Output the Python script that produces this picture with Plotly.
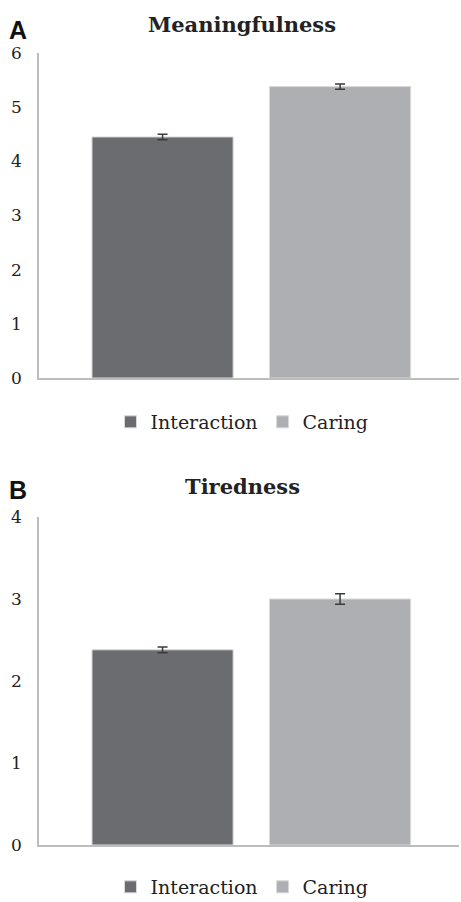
import plotly.graph_objects as go

categories = ["Interaction", "Caring"]
meaning_vals = [4.45, 5.38]
meaning_err = [0.05, 0.05]
tired_vals = [2.38, 3.0]
tired_err = [0.035, 0.065]
colors = ["#6b6c70", "#aeafb2"]

W, H = 461, 902
def py(p):
    return 1 - p / H

fig = go.Figure()
for i, c in enumerate(categories):
    fig.add_trace(go.Bar(x=[i], y=[meaning_vals[i]], name=c, marker=dict(color=colors[i], line=dict(color="#d8d8d8", width=1)),
                         width=0.795, error_y=dict(type="data", array=[meaning_err[i]], color="#3a3a3a", thickness=1.5, width=5),
                         xaxis="x", yaxis="y", legend="legend"))
for i, c in enumerate(categories):
    fig.add_trace(go.Bar(x=[i], y=[tired_vals[i]], name=c, marker=dict(color=colors[i], line=dict(color="#d8d8d8", width=1)),
                         width=0.795, error_y=dict(type="data", array=[tired_err[i]], color="#3a3a3a", thickness=1.5, width=5),
                         xaxis="x2", yaxis="y2", legend="legend2"))

xr = [-0.696, 1.670]
tickfont = dict(family="DejaVu Serif", size=17, color="#222")
axcommon_x = dict(range=xr, showticklabels=False, showgrid=False, zeroline=False, showline=True,
                  linecolor="#bdbdbd", linewidth=1.5, ticks="", fixedrange=True)
axcommon_y = dict(showgrid=False, zeroline=False, showline=True, linecolor="#bdbdbd", linewidth=1.5,
                  ticks="", tickfont=tickfont, ticklabelstandoff=12)

legfont = dict(family="DejaVu Serif", size=19, color="#222")
fig.update_layout(
    width=W, height=H,
    margin=dict(l=0, r=0, t=0, b=0, autoexpand=False),
    paper_bgcolor="white", plot_bgcolor="white",
    barmode="overlay",
    xaxis=dict(domain=[39 / W, 459 / W], anchor="y", **axcommon_x),
    yaxis=dict(domain=[py(378), py(53)], anchor="x", range=[0, 6], dtick=1, **axcommon_y),
    xaxis2=dict(domain=[39 / W, 459 / W], anchor="y2", **axcommon_x),
    yaxis2=dict(domain=[py(845), py(517)], anchor="x2", range=[0, 4], dtick=1, **axcommon_y),
    legend=dict(orientation="h", x=242 / W, y=py(422), xanchor="center", yanchor="middle",
                font=legfont, itemwidth=30, tracegroupgap=0),
    legend2=dict(orientation="h", x=242 / W, y=py(887), xanchor="center", yanchor="middle",
                 font=legfont, itemwidth=30, tracegroupgap=0),
    annotations=[
        dict(text="<b>Meaningfulness</b>", x=242 / W, y=py(25), xref="paper", yref="paper", showarrow=False,
             font=dict(family="DejaVu Serif", size=21, color="#222"), xanchor="center", yanchor="middle"),
        dict(text="<b>Tiredness</b>", x=242 / W, y=py(486), xref="paper", yref="paper", showarrow=False,
             font=dict(family="DejaVu Serif", size=21, color="#222"), xanchor="center", yanchor="middle"),
        dict(text="<b>A</b>", x=7 / W, y=py(30), xref="paper", yref="paper", showarrow=False,
             font=dict(family="Liberation Sans", size=25, color="#111"), xanchor="left", yanchor="middle"),
        dict(text="<b>B</b>", x=7 / W, y=py(490), xref="paper", yref="paper", showarrow=False,
             font=dict(family="Liberation Sans", size=25, color="#111"), xanchor="left", yanchor="middle"),
    ],
)
fig.write_html("out.html", config={"displayModeBar": False})
with open("out.html", "r", encoding="utf-8") as f:
    html = f.read()
if not html.lstrip().lower().startswith("<!doctype"):
    html = "<!DOCTYPE html>\n" + html
html = html.replace("<head>", "<head><style>html,body{margin:0!important;padding:0!important;overflow:hidden;}</style>", 1)
with open("out.html", "w", encoding="utf-8") as f:
    f.write(html)
